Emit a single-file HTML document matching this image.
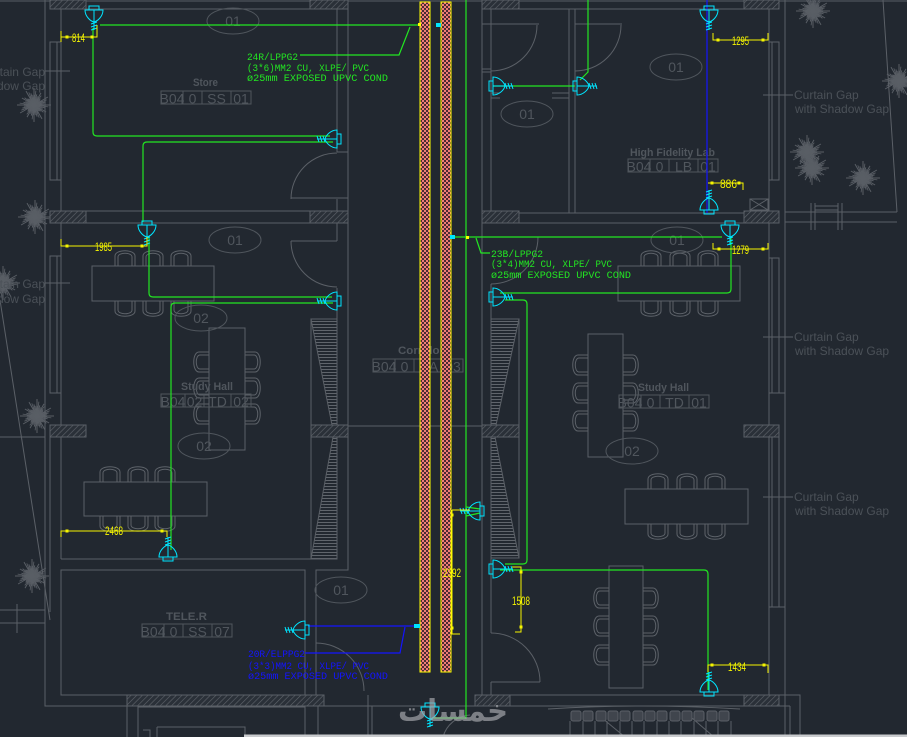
<!DOCTYPE html>
<html><head><meta charset="utf-8"><style>
html,body{margin:0;padding:0;background:#222830;}
svg{display:block}
</style></head><body>
<svg width="907" height="737" viewBox="0 0 907 737" xmlns="http://www.w3.org/2000/svg">
<defs>
<pattern id="hatch" width="4" height="4" patternUnits="userSpaceOnUse" patternTransform="rotate(45)">
  <rect width="4" height="4" fill="#2a3038"/>
  <line x1="0" y1="0" x2="0" y2="4" stroke="#60656c" stroke-width="1.2"/>
</pattern>
<pattern id="hl" width="6" height="3" patternUnits="userSpaceOnUse">
  <line x1="0" y1="0.5" x2="6" y2="0.5" stroke="#60656c" stroke-width="1"/>
</pattern>
<pattern id="chk" x="0" y="0" width="4" height="4" patternUnits="userSpaceOnUse">
  <rect width="4" height="4" fill="#f07c78"/>
  <rect x="0" y="0" width="2" height="2" fill="#4a2c32"/>
  <rect x="2" y="2" width="2" height="2" fill="#4a2c32"/>
</pattern>
<g id="fx" fill="none" stroke="#00e5ff" stroke-width="1">
  <rect x="-5" y="-1" width="10" height="4"/>
  <path d="M-9,3 H9 C9,9 4,14 0,15 C-4,14 -9,9 -9,3 Z"/>
  <path d="M0,3 V23 M-3,17 L3,15 M-3,20 L3,18 M-3,23 L3,21"/>
</g>
<g id="ch" fill="none" stroke="#5d6269" stroke-width="1">
  <path d="M-10,16 V6 C-10,-1 10,-1 10,6 V16 M-7,16 V7 C-7,2 7,2 7,7 V16"/>
</g>
<g id="tr0" stroke="#595e65" stroke-width="1" fill="none">
  <path d="M0,0 L17,0 M0,0 L10.6,2.8 M0,0 L12.1,7 M0,0 L6.4,6.4 M0,0 L8,13.9 M0,0 L3.1,11.6 M0,0 L0,17 M0,0 L-2.8,10.6 M0,0 L-7,12.1 M0,0 L-6.4,6.4 M0,0 L-13.9,8 M0,0 L-11.6,3.1 M0,0 L-17,0 M0,0 L-10.6,-2.8 M0,0 L-12.1,-7 M0,0 L-6.4,-6.4 M0,0 L-8,-13.9 M0,0 L-3.1,-11.6 M0,0 L0,-17 M0,0 L2.8,-10.6 M0,0 L7,-12.1 M0,0 L6.4,-6.4 M0,0 L13.9,-8 M0,0 L11.6,-3.1"/>
</g>
<g id="tr">
  <use href="#tr0"/>
  <use href="#tr0" transform="rotate(7.5) scale(0.85)"/>
  <use href="#tr0" transform="rotate(4) scale(0.6)"/>
</g>
</defs>

<rect x="0" y="0" width="907" height="737" fill="#222830"/>
<rect x="0" y="0" width="907" height="2" fill="#3d434b"/>

<use href="#tr" transform="translate(34,105)"/>
<use href="#tr" transform="translate(35,217)"/>
<use href="#tr" transform="translate(3,283)"/>
<use href="#tr" transform="translate(37,416)"/>
<use href="#tr" transform="translate(32,576)"/>
<use href="#tr" transform="translate(813,11)"/>
<use href="#tr" transform="translate(899,81)"/>
<use href="#tr" transform="translate(807,152)"/>
<use href="#tr" transform="translate(812,168)"/>
<use href="#tr" transform="translate(863,178)"/>

<g fill="none" stroke="#5b6067" stroke-width="1">
  <path d="M45,0 V706 H127 V737"/>
  <path d="M50,9 H348 M61,9 V559"/>
  <rect x="50" y="42" width="11" height="138"/><path d="M57,42 V180"/>
  <rect x="50" y="256" width="11" height="137"/><path d="M57,256 V393"/>
  <path d="M50,211 H348 M50,223 H348"/>
  <path d="M337,9 V152 M337,199 V241 M337,288 V559 M337,152 H348"/>
  <path d="M348,0 V570 H316 V695"/>
  <path d="M291,199 A46,46 0 0 1 337,153 M291,198 H348"/>
  <path d="M291,241 A46,46 0 0 0 337,287 M291,241 H337"/>
  <rect x="311" y="319" width="26" height="106"/>
  <path d="M311,437 V559 M61,559 H337"/>
  <rect x="61" y="570" width="244" height="125"/>
  <path d="M348,426 H420 M430,426 H441 M451,426 H482"/>
  <path d="M0,437 H45 M0,610 H45 M0,623 H45 M17,604 V633 M50,437 V612"/>
  <path d="M0,300 L50,620"/>
  <path d="M45,71 H70 M45,283 H70"/>
  <path d="M324,706 H470 M138,706 V737 M305,695 V737 M318,706 V737 M368,695 V737 M372,706 V737 M138,707 H305 M157,727 H245 V737 M157,727 V737 M143,730 H150 V737"/>
  <path d="M316,643 A48,48 0 0 1 364,691"/>
  <path d="M443,737 A30,30 0 0 1 470,715"/>
  <path d="M482,0 V695 M491,9 V213 M491,284 V425 M491,437 V633 M491,682 V695"/>
  <path d="M482,9 H779 M569,9 V213 M575,9 V213"/>
  <path d="M482,69 H491 M482,72 H491 M491,93 H500 M491,98 H500 M552,93 H569 M552,98 H569"/>
  <path d="M491,71 A46,46 0 0 0 537,25 M482,24 H539"/>
  <path d="M575,71 A46,46 0 0 0 621,25 M575,24 H622"/>
  <path d="M482,213 H779 M482,223 H779"/>
  <path d="M769,9 V213 M769,223 V695"/>
  <rect x="769" y="42" width="10" height="138"/><path d="M772,42 V180"/>
  <rect x="769" y="258" width="10" height="135"/><path d="M772,258 V393 M769,393 H785"/>
  <rect x="769" y="437" width="10" height="170"/><path d="M772,437 V607 M769,607 H785"/>
  <path d="M785,0 V737 M785,212 H897 M785,222 H897 M883,0 L897,212"/>
  <path d="M811,203 V230 M815,203 V230 M838,203 V230 M842,203 V230 M815,206 H838 M815,210 H838"/>
  <rect x="750" y="199" width="18" height="11"/><path d="M750,199 L768,210 M768,199 L750,210"/>
  <path d="M482,695 H800 V737 M470,706 H790 M790,706 V737"/>
  <path d="M491,633 A49,49 0 0 1 540,682 M491,682 H540"/>
  <path d="M491,284 A47,47 0 0 0 538,237 M482,237 H540"/>
  <rect x="491" y="319" width="28" height="106"/>
  <path d="M519,437 V558 H491"/>
  <path d="M763,95 H793 M763,337 H793 M763,497 H793"/>
  <rect x="92" y="266" width="122" height="35"/>
  <rect x="209" y="328" width="36" height="122"/>
  <rect x="84" y="482" width="123" height="34"/>
  <rect x="618" y="266" width="122" height="35"/>
  <rect x="588" y="334" width="35" height="123"/>
  <rect x="625" y="489" width="123" height="35"/>
  <rect x="609" y="566" width="34" height="122"/>
  <path d="M548,709 Q640,703 740,709"/>
  <path d="M570,721 V737 M583,721 V737 M595,721 V737 M607,721 V737 M620,721 V737 M632,721 V737 M644,721 V737 M657,721 V737 M669,721 V737 M681,721 V737 M694,721 V737 M706,721 V737 M718,721 V737 M731,721 V737 M602,718 L625,737 M692,718 L714,737"/>
</g>
<g fill="#40454d" stroke="#5b6067">
  <rect x="571" y="711" width="10" height="10" rx="2"/><rect x="583" y="711" width="10" height="10" rx="2"/>
  <rect x="596" y="711" width="10" height="10" rx="2"/><rect x="608" y="711" width="10" height="10" rx="2"/>
  <rect x="620" y="711" width="10" height="10" rx="2"/><rect x="633" y="711" width="10" height="10" rx="2"/>
  <rect x="645" y="711" width="10" height="10" rx="2"/><rect x="657" y="711" width="10" height="10" rx="2"/>
  <rect x="670" y="711" width="10" height="10" rx="2"/><rect x="682" y="711" width="10" height="10" rx="2"/>
  <rect x="694" y="711" width="10" height="10" rx="2"/><rect x="707" y="711" width="10" height="10" rx="2"/>
  <rect x="719" y="711" width="10" height="10" rx="2"/>
</g>

<g fill="url(#hl)" stroke="#5b6067" stroke-width="1">
  <polygon points="311,319 337,319 337,425 332,425"/>
  <polygon points="333,437 337,437 337,559 311,559"/>
  <polygon points="491,319 519,319 496,425 491,425"/>
  <polygon points="491,437 495,437 519,558 491,558"/>
</g>

<g fill="url(#hatch)" stroke="#5b6067" stroke-width="1">
  <rect x="50" y="0" width="36" height="9"/><rect x="310" y="0" width="38" height="9"/>
  <rect x="50" y="211" width="36" height="12"/><rect x="310" y="211" width="38" height="12"/>
  <rect x="50" y="425" width="36" height="12"/><rect x="311" y="425" width="37" height="12"/>
  <rect x="127" y="695" width="197" height="11"/>
  <rect x="482" y="0" width="37" height="9"/><rect x="744" y="0" width="35" height="9"/>
  <rect x="482" y="211" width="37" height="12"/><rect x="744" y="211" width="35" height="12"/>
  <rect x="482" y="425" width="37" height="12"/><rect x="744" y="425" width="35" height="12"/>
  <rect x="475" y="695" width="35" height="11"/><rect x="744" y="695" width="35" height="11"/>
</g>

<use href="#ch" transform="translate(125,250)"/><use href="#ch" transform="translate(153,250)"/><use href="#ch" transform="translate(181,250)"/>
<use href="#ch" transform="translate(125,317) rotate(180)"/><use href="#ch" transform="translate(153,317) rotate(180)"/><use href="#ch" transform="translate(181,317) rotate(180)"/>
<use href="#ch" transform="translate(193,362) rotate(-90)"/><use href="#ch" transform="translate(193,388) rotate(-90)"/><use href="#ch" transform="translate(193,414) rotate(-90)"/>
<use href="#ch" transform="translate(261,362) rotate(90)"/><use href="#ch" transform="translate(261,388) rotate(90)"/><use href="#ch" transform="translate(261,414) rotate(90)"/>
<use href="#ch" transform="translate(110,466)"/><use href="#ch" transform="translate(138,466)"/><use href="#ch" transform="translate(165,466)"/>
<use href="#ch" transform="translate(110,532) rotate(180)"/><use href="#ch" transform="translate(138,532) rotate(180)"/><use href="#ch" transform="translate(165,532) rotate(180)"/>
<use href="#ch" transform="translate(651,250)"/><use href="#ch" transform="translate(680,250)"/><use href="#ch" transform="translate(708,250)"/>
<use href="#ch" transform="translate(651,317) rotate(180)"/><use href="#ch" transform="translate(680,317) rotate(180)"/><use href="#ch" transform="translate(708,317) rotate(180)"/>
<use href="#ch" transform="translate(572,365) rotate(-90)"/><use href="#ch" transform="translate(572,393) rotate(-90)"/><use href="#ch" transform="translate(572,421) rotate(-90)"/>
<use href="#ch" transform="translate(639,365) rotate(90)"/><use href="#ch" transform="translate(639,393) rotate(90)"/><use href="#ch" transform="translate(639,421) rotate(90)"/>
<use href="#ch" transform="translate(658,473)"/><use href="#ch" transform="translate(687,473)"/><use href="#ch" transform="translate(715,473)"/>
<use href="#ch" transform="translate(658,540) rotate(180)"/><use href="#ch" transform="translate(687,540) rotate(180)"/><use href="#ch" transform="translate(715,540) rotate(180)"/>
<use href="#ch" transform="translate(593,598) rotate(-90)"/><use href="#ch" transform="translate(593,626) rotate(-90)"/><use href="#ch" transform="translate(593,655) rotate(-90)"/>
<use href="#ch" transform="translate(659,598) rotate(90)"/><use href="#ch" transform="translate(659,626) rotate(90)"/><use href="#ch" transform="translate(659,655) rotate(90)"/>

<g fill="none" stroke="#50565d" stroke-width="1">
  <ellipse cx="233" cy="21" rx="26" ry="13"/>
  <ellipse cx="235" cy="240" rx="26" ry="13"/>
  <ellipse cx="201" cy="318" rx="26" ry="13"/>
  <ellipse cx="204" cy="446" rx="26" ry="13"/>
  <ellipse cx="341" cy="590" rx="26" ry="13"/>
  <ellipse cx="527" cy="114" rx="26" ry="13"/>
  <ellipse cx="676" cy="67" rx="26" ry="13"/>
  <ellipse cx="677" cy="240" rx="26" ry="13"/>
  <ellipse cx="632" cy="451" rx="26" ry="13"/>
</g>
<g font-family="Liberation Sans, sans-serif" font-size="14" fill="#50565d" text-anchor="middle">
  <text x="233" y="26">01</text><text x="235" y="245">01</text><text x="201" y="323">02</text>
  <text x="204" y="451">02</text><text x="341" y="595">01</text><text x="527" y="119">01</text>
  <text x="676" y="72">01</text><text x="677" y="245">01</text><text x="632" y="456">02</text>
</g>

<g font-family="Liberation Sans, sans-serif" font-weight="bold" font-size="11" fill="#50565d">
  <text x="193" y="86" textLength="25" lengthAdjust="spacingAndGlyphs">Store</text>
  <text x="181" y="390" textLength="52" lengthAdjust="spacingAndGlyphs">Study Hall</text>
  <text x="398" y="354" textLength="46" lengthAdjust="spacingAndGlyphs">Corridor</text>
  <text x="630" y="156" textLength="85" lengthAdjust="spacingAndGlyphs">High Fidelity Lab</text>
  <text x="638" y="391" textLength="51" lengthAdjust="spacingAndGlyphs">Study Hall</text>
  <text x="166" y="620" textLength="41" lengthAdjust="spacingAndGlyphs">TELE.R</text>
</g>
<g fill="none" stroke="#50565d" stroke-width="1">
  <rect x="161" y="91" width="90" height="13"/><path d="M183,91 V104 M202,91 V104 M231,91 V104"/>
  <rect x="161" y="394" width="90" height="13"/><path d="M185,394 V407 M204,394 V407 M231,394 V407"/>
  <rect x="373" y="359" width="90" height="13"/><path d="M395,359 V372 M414,359 V372 M443,359 V372"/>
  <rect x="628" y="159" width="90" height="13"/><path d="M650,159 V172 M669,159 V172 M698,159 V172"/>
  <rect x="619" y="395" width="90" height="13"/><path d="M641,395 V408 M660,395 V408 M689,395 V408"/>
  <rect x="142" y="624" width="90" height="13"/><path d="M164,624 V637 M183,624 V637 M212,624 V637"/>
</g>
<g font-family="Liberation Sans, sans-serif" font-size="14" fill="#50565d" text-anchor="middle">
  <text x="172" y="103.5">B04</text><text x="192.5" y="103.5">0</text><text x="216.5" y="103.5">SS</text><text x="241" y="103.5">01</text>
  <text x="173" y="406.5">B04</text><text x="194.5" y="406.5">02</text><text x="217.5" y="406.5">TD</text><text x="241" y="406.5">02</text>
  <text x="384" y="371.5">B04</text><text x="404.5" y="371.5">0</text><text x="428.5" y="371.5">CA</text><text x="453" y="371.5">03</text>
  <text x="639" y="171.5">B04</text><text x="659.5" y="171.5">0</text><text x="683.5" y="171.5">LB</text><text x="708" y="171.5">01</text>
  <text x="630" y="407.5">B04</text><text x="650.5" y="407.5">0</text><text x="674.5" y="407.5">TD</text><text x="699" y="407.5">01</text>
  <text x="153" y="636.5">B04</text><text x="173.5" y="636.5">0</text><text x="197.5" y="636.5">SS</text><text x="222" y="636.5">07</text>
</g>

<g font-family="Liberation Sans, sans-serif" font-size="12" fill="#4b5158">
  <text x="794" y="99">Curtain Gap</text><text x="795" y="113">with Shadow Gap</text>
  <text x="794" y="341">Curtain Gap</text><text x="795" y="355">with Shadow Gap</text>
  <text x="794" y="501">Curtain Gap</text><text x="795" y="515">with Shadow Gap</text>
  <text x="45" y="76" text-anchor="end">Curtain Gap</text><text x="45" y="90" text-anchor="end">with Shadow Gap</text>
  <text x="45" y="288" text-anchor="end">Curtain Gap</text><text x="45" y="303" text-anchor="end">with Shadow Gap</text>
</g>

<!-- riser -->
<rect x="420" y="2" width="10" height="670" fill="url(#chk)" stroke="#ffff00" stroke-width="1"/>
<rect x="441" y="2" width="10" height="670" fill="url(#chk)" stroke="#ffff00" stroke-width="1"/>

<g fill="none" stroke="#22e622" stroke-width="1.2">
  <path d="M100,25 H420"/>
  <path d="M93,28 V132 Q93,136 97,136 H330"/>
  <path d="M333,142 H147 Q143,142 143,146 V222"/>
  <path d="M410,27 L399,55 H300"/>
  <path d="M149,238 V293 Q149,297 153,297 H332"/>
  <path d="M333,303 H175 Q171,303 171,307 V550"/>
  <path d="M588,0 V72 L580,80"/>
  <path d="M493,86 H575"/>
  <path d="M452,237 H722"/>
  <path d="M476,238 L481,253 H490"/>
  <path d="M500,293 H727 Q731,293 731,289 V237"/>
  <path d="M505,300 H523 Q527,300 527,304 V560 Q527,564 523,564 H505"/>
  <path d="M500,570 H704 Q708,570 708,574 V690"/>
  <path d="M466,0 V719"/>
  <path d="M432,718 H466"/>
  <path d="M466,507 L480,509 M466,516 L480,513"/>
</g>
<g fill="none" stroke="#1414ff" stroke-width="1.2">
  <path d="M308,626 H414"/>
  <path d="M405,627 L400,653 H305"/>
  <path d="M707,0 V213"/>
</g>

<g fill="#00e5ff">
  <rect x="436" y="23" width="5" height="4"/>
  <rect x="450" y="235" width="5" height="4"/>
  <rect x="414" y="624" width="6" height="4"/>
</g>
<g fill="#ffff00">
  <rect x="418" y="23" width="3" height="3"/>
  <rect x="466" y="236" width="3" height="3"/>
</g>

<use href="#fx" transform="translate(94,7)"/>
<use href="#fx" transform="translate(340,139) rotate(90)"/>
<use href="#fx" transform="translate(147,222)"/>
<use href="#fx" transform="translate(340,301) rotate(90)"/>
<use href="#fx" transform="translate(168,560) rotate(180)"/>
<use href="#fx" transform="translate(308,630) rotate(90)"/>
<use href="#fx" transform="translate(490,86) rotate(-90)"/>
<use href="#fx" transform="translate(574,86) rotate(-90)"/>
<use href="#fx" transform="translate(709,7)"/>
<use href="#fx" transform="translate(709,213) rotate(180)"/>
<use href="#fx" transform="translate(730,222)"/>
<use href="#fx" transform="translate(490,297) rotate(-90)"/>
<use href="#fx" transform="translate(483,511) rotate(90)"/>
<use href="#fx" transform="translate(490,569) rotate(-90)"/>
<use href="#fx" transform="translate(709,695) rotate(180)"/>
<use href="#fx" transform="translate(430,704)"/>

<g fill="none" stroke="#f5f500" stroke-width="1">
  <path d="M61,31 V42 M61,37 H97 V25"/>
  <path d="M61,239 V246 H147 V237"/>
  <path d="M61,537 V531 H167 V537"/>
  <path d="M713,33 V40 H768 V33"/>
  <path d="M708,183 H743 V190"/>
  <path d="M713,243 V249 H768 V243"/>
  <path d="M452,510 H470 M452,510 V634 H460"/>
  <path d="M512,567 H521 V632 H515"/>
  <path d="M708,672 V665 H768 V673"/>
</g>
<g fill="#f5f500">
  <rect x="65.5" y="35.5" width="3" height="3"/><rect x="90.5" y="35.5" width="3" height="3"/>
  <rect x="65.5" y="244.5" width="3" height="3"/><rect x="140.5" y="244.5" width="3" height="3"/>
  <rect x="65.5" y="529.5" width="3" height="3"/><rect x="160.5" y="529.5" width="3" height="3"/>
  <rect x="716.5" y="38.5" width="3" height="3"/><rect x="761.5" y="38.5" width="3" height="3"/>
  <rect x="710.5" y="181.5" width="3" height="3"/><rect x="737.5" y="181.5" width="3" height="3"/>
  <rect x="717.5" y="247.5" width="3" height="3"/><rect x="761.5" y="247.5" width="3" height="3"/>
  <rect x="450.5" y="513.5" width="3" height="3"/><rect x="450.5" y="626.5" width="3" height="3"/>
  <rect x="519.5" y="570.5" width="3" height="3"/><rect x="519.5" y="625.5" width="3" height="3"/>
  <rect x="710.5" y="663.5" width="3" height="3"/><rect x="762.5" y="663.5" width="3" height="3"/>
</g>
<g font-family="Liberation Sans, sans-serif" font-size="12" fill="#f5f500">
  <text x="72" y="42" textLength="13" lengthAdjust="spacingAndGlyphs">814</text>
  <text x="95" y="251" textLength="17" lengthAdjust="spacingAndGlyphs">1985</text>
  <text x="105" y="535" textLength="18" lengthAdjust="spacingAndGlyphs">2468</text>
  <text x="732" y="45" textLength="17" lengthAdjust="spacingAndGlyphs">1295</text>
  <text x="720" y="188" textLength="17" lengthAdjust="spacingAndGlyphs">886</text>
  <text x="732" y="254" textLength="17" lengthAdjust="spacingAndGlyphs">1279</text>
  <text x="443" y="577" textLength="18" lengthAdjust="spacingAndGlyphs">2392</text>
  <text x="512" y="605" textLength="18" lengthAdjust="spacingAndGlyphs">1508</text>
  <text x="728" y="671" textLength="18" lengthAdjust="spacingAndGlyphs">1434</text>
</g>

<g font-family="Liberation Mono, monospace" font-size="10.5" fill="#22e622">
  <text x="247" y="60" textLength="51" lengthAdjust="spacingAndGlyphs">24R/LPPG2</text>
  <text x="247" y="71" textLength="122" lengthAdjust="spacingAndGlyphs">(3*6)MM2 CU, XLPE/ PVC</text>
  <text x="247" y="81" textLength="141" lengthAdjust="spacingAndGlyphs">ø25mm EXPOSED UPVC COND</text>
  <text x="491" y="257" textLength="52" lengthAdjust="spacingAndGlyphs">23B/LPPG2</text>
  <text x="491" y="267" textLength="121" lengthAdjust="spacingAndGlyphs">(3*4)MM2 CU, XLPE/ PVC</text>
  <text x="491" y="278" textLength="140" lengthAdjust="spacingAndGlyphs">ø25mm EXPOSED UPVC COND</text>
</g>
<g font-family="Liberation Mono, monospace" font-size="10.5" fill="#1414ff">
  <text x="248" y="657" textLength="57" lengthAdjust="spacingAndGlyphs">20R/ELPPG2</text>
  <text x="248" y="669" textLength="121" lengthAdjust="spacingAndGlyphs">(3*3)MM2 CU, XLPE/ PVC</text>
  <text x="248" y="679" textLength="140" lengthAdjust="spacingAndGlyphs">ø25mm EXPOSED UPVC COND</text>
</g>

<text x="398" y="721" font-family="DejaVu Sans, sans-serif" font-size="30" font-weight="bold" fill="#a2a5a9" opacity="0.7" textLength="110" lengthAdjust="spacingAndGlyphs">خمسات</text>

<rect x="244" y="734.5" width="663" height="2.5" fill="#c9cbce"/>
</svg>
</body></html>
